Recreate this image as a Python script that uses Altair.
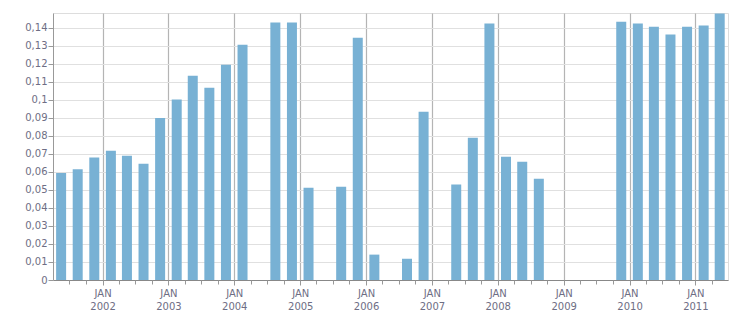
import altair as alt
import pandas as pd

quarters = [
    "2001-Q2", "2001-Q3", "2001-Q4",
    "2002-Q1", "2002-Q2", "2002-Q3", "2002-Q4",
    "2003-Q1", "2003-Q2", "2003-Q3", "2003-Q4",
    "2004-Q1", "2004-Q2", "2004-Q3", "2004-Q4",
    "2005-Q1", "2005-Q2", "2005-Q3", "2005-Q4",
    "2006-Q1", "2006-Q2", "2006-Q3", "2006-Q4",
    "2007-Q1", "2007-Q2", "2007-Q3", "2007-Q4",
    "2008-Q1", "2008-Q2", "2008-Q3", "2008-Q4",
    "2009-Q1", "2009-Q2", "2009-Q3", "2009-Q4",
    "2010-Q1", "2010-Q2", "2010-Q3", "2010-Q4",
    "2011-Q1", "2011-Q2",
]
values = [
    0.0595, 0.0615, 0.0680,
    0.0718, 0.0690, 0.0646, 0.0900,
    0.1002, 0.1135, 0.1068, 0.1196,
    0.1307, None, 0.1430, 0.1430,
    0.0513, None, 0.0518, 0.1346,
    0.0141, None, 0.0118, 0.0935,
    None, 0.0530, 0.0790, 0.1424,
    0.0685, 0.0657, 0.0563, None,
    None, None, None, 0.1435,
    0.1424, 0.1407, 0.1363, 0.1407,
    0.1413, 0.1480,
]
year_labels = list(range(2002, 2012))
y_ticks = [0, 0.01, 0.02, 0.03, 0.04, 0.05, 0.06, 0.07, 0.08, 0.09, 0.10, 0.11, 0.12, 0.13, 0.14]

rows = []
for ql, v in zip(quarters, values):
    yr, q = ql.split("-Q")
    rows.append({"year": int(yr), "q": int(q), "value": v})
df = pd.DataFrame(rows)

FONT = "DejaVu Sans"
LABEL_COLOR = "#6e6e84"

x_scale = alt.Scale(domain=[alt.DateTime(year=2001, month=4, date=1),
                            alt.DateTime(year=2011, month=7, date=1)],
                    padding=0, nice=False)
y_scale = alt.Scale(domain=[0, 0.1483], nice=False, zero=True, padding=0)

year_values = [alt.DateTime(year=y, month=1, date=1) for y in year_labels]
quarter_values = []
for y in range(2001, 2012):
    for m in (1, 4, 7, 10):
        if (y, m) > (2001, 4) and (y, m) < (2011, 7):
            quarter_values.append(alt.DateTime(year=y, month=m, date=1))

base = alt.Chart(df).transform_filter("isValid(datum.value)").transform_calculate(
    mid="datetime(datum.year, (datum.q - 1) * 3 + 1, 16)"
)

bars = base.mark_bar(size=10, color="#78b1d4").encode(
    x=alt.X("mid:T", scale=x_scale, title=None,
            axis=alt.Axis(values=year_values, orient="bottom", grid=True,
                          gridColor="#b4b4b4", gridWidth=1.2,
                          labelExpr="['JAN', timeFormat(datum.value, '%Y')]",
                          labelFont=FONT, labelFontSize=10, labelColor=LABEL_COLOR,
                          labelLineHeight=13, labelPadding=3, labelAngle=0,
                          tickSize=5, tickColor="#999999",
                          domainColor="#888888", domainWidth=1)),
    y=alt.Y("value:Q", scale=y_scale, title=None,
            axis=alt.Axis(values=y_ticks, grid=True, gridColor="#e0e0e0",
                          labelExpr="replace(format(datum.value, '.2~f'), '.', ',')",
                          labelFont=FONT, labelFontSize=10, labelColor=LABEL_COLOR,
                          labelPadding=1, tickSize=5, tickColor="#999999",
                          domainColor="#999999")),
)

qticks = base.mark_point(opacity=0).encode(
    x=alt.X("mid:T", scale=x_scale, title=None,
            axis=alt.Axis(values=quarter_values, orient="bottom", grid=False,
                          labels=False, domain=False, tickSize=4,
                          tickColor="#999999")),
)

chart = alt.layer(bars, qticks).resolve_axis(x="independent").properties(
    width=675, height=267,
    autosize=alt.AutoSizeParams(type="none"),
    padding={"left": 53, "top": 13, "right": 23, "bottom": 33},
).configure_view(stroke="#dddddd").configure(background="white")

chart.save("out.html", embed_options={"renderer": "svg", "actions": False})
